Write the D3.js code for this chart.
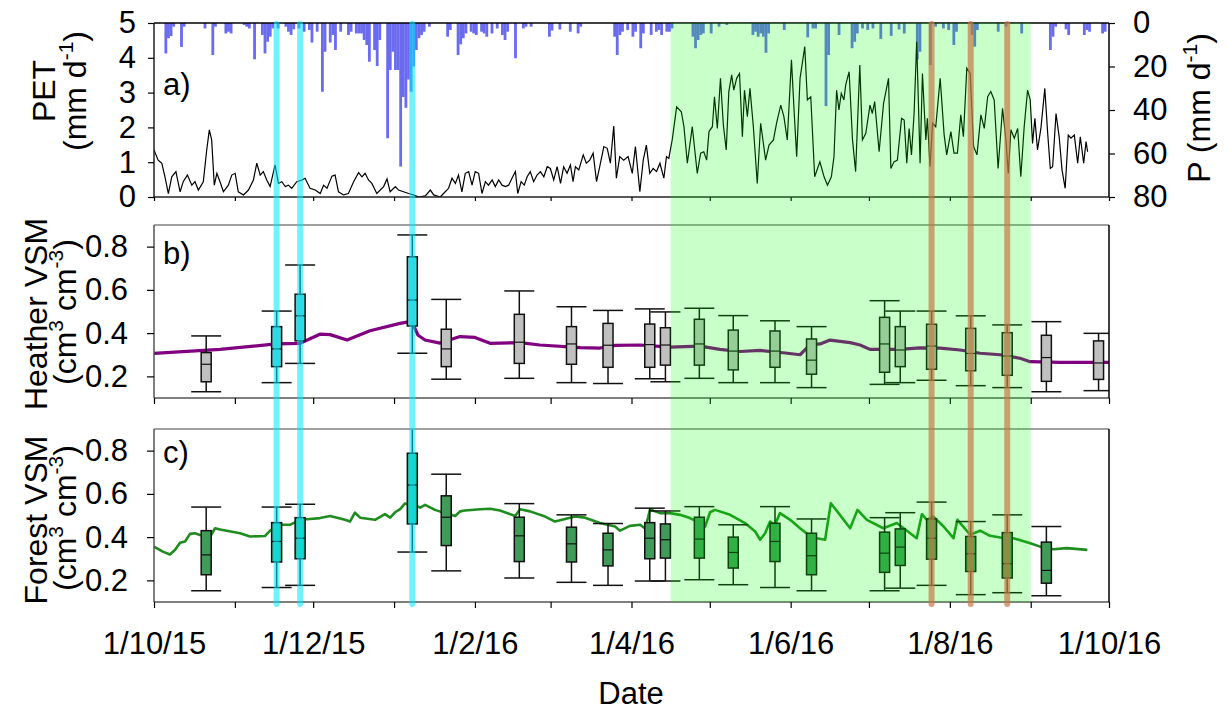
<!DOCTYPE html>
<html>
<head>
<meta charset="utf-8">
<script src="https://cdn.jsdelivr.net/npm/d3@7"></script>
<style>
body { margin: 0; background: #fff; }
svg text { font-family: "Liberation Sans", Arial, sans-serif; fill: #000; }
</style>
</head>
<body>
<script>
var width = 1227;
var height = 713;

// PET (mm/d), day numbers counted from 1 Oct 2015
var petDay = [0,1.6,3.0,4.2,5.5,6.8,8.4,10.0,11.2,12.8,14.5,15.7,17.0,18.9,20.2,21.2,22.1,23.1,24.1,25.3,
	26.6,28.5,29.8,31.1,32.3,34.3,36.2,38.1,39.4,40.7,41.9,43.2,44.5,46.4,47.7,49.0,50.3,51.5,52.8,54.7,
	56.7,57.9,59.8,61.8,63.7,65.0,66.3,68.2,69.4,70.7,72.6,74.5,76.5,78.4,79.7,80.9,82.2,83.5,85.4,88.0,
	89.3,90.5,92.5,93.7,95.6,97.6,99.5,101.4,104.0,105.9,107.2,109.7,111.6,112.9,114.2,115.5,116.7,118.0,119.3,120.6,
	121.9,123.1,124.4,125.7,127.0,128.2,129.6,130.8,132.1,133.4,134.7,135.9,137.2,138.5,139.4,140.7,141.9,143.0,144.2,145.5,
	146.8,148.1,149.4,150.7,151.9,153.2,154.5,155.8,157.0,158.3,159.6,160.6,161.5,162.8,164.5,165.7,167.0,168.3,169.6,171.1,
	172.4,173.7,174.9,176.2,177.2,178.5,180.0,181.7,183.3,184.5,186.2,187.5,188.7,190.0,191.3,192.6,193.9,195.4,196.4,197.3,
	198.6,200.3,202.1,203.1,204.4,206.3,208.2,209.5,210.7,211.8,212.7,214.0,214.8,215.9,217.1,218.2,219.3,220.3,221.4,222.2,
	223.3,224.4,225.5,226.3,227.4,228.4,229.7,231.2,232.5,234.4,235.7,237.4,238.6,240.2,241.4,242.7,244.3,245.3,246.3,247.6,
	249.4,250.4,251.7,253.2,255.2,256.8,258.1,259.6,260.6,261.6,262.5,263.4,264.4,265.1,266.4,267.7,268.9,270.5,271.5,272.8,
	274.4,275.3,276.2,277.9,279.6,281.5,282.4,283.6,284.9,286.5,287.5,288.5,289.4,290.3,291.3,292.3,293.6,294.5,295.8,296.4,
	297.4,298.4,299.6,301.3,302.8,303.8,305.4,306.6,307.9,309.2,310.2,311.5,312.8,314.1,315.4,316.9,318.2,319.5,320.7,322.0,
	323.5,325.2,326.5,327.4,328.4,329.7,331.0,332.2,333.5,334.8,335.8,336.7,337.6,338.6,339.9,341.4,342.5,343.5,344.4,345.7,
	346.9,348.0,349.2,350.4,351.4,352.7,354.0,355.0,356.3,357.2,357.8];
var petVal = [1.35,1.06,0.97,0.58,0.10,0.58,0.73,0.15,0.44,0.63,0.34,0.44,0.20,0.44,1.35,1.93,1.64,0.34,0.68,0.44,
	0.15,0.34,0.63,0.68,0.15,0.06,0.20,0.49,0.97,0.63,0.73,0.49,0.30,0.92,0.39,0.44,0.30,0.34,0.25,0.44,
	0.49,0.54,0.25,0.20,0.10,0.34,0.25,0.60,0.63,0.15,0.06,0.10,0.44,0.70,0.58,0.68,0.49,0.39,0.10,0.30,
	0.52,0.15,0.30,0.20,0.15,0.10,0.06,0.00,0.03,0.20,0.06,0.00,0.15,0.25,0.54,0.39,0.63,0.15,0.68,0.73,
	0.34,0.73,0.68,0.10,0.44,0.34,0.49,0.30,0.49,0.34,0.30,0.34,0.54,0.73,0.10,0.44,0.34,0.58,0.73,0.44,
	0.63,0.73,0.58,0.87,0.82,0.49,0.87,0.39,0.87,0.68,0.92,0.44,0.87,0.78,1.21,0.97,1.06,1.26,0.44,0.97,
	1.45,1.40,0.97,2.04,0.54,1.16,1.06,1.16,0.68,1.45,0.15,1.06,1.49,0.68,0.82,0.73,0.97,0.54,1.16,1.11,
	1.64,2.59,2.45,2.02,0.97,2.02,0.68,1.26,1.30,1.06,1.88,2.02,2.88,1.97,3.41,2.07,1.35,3.03,3.51,3.07,
	3.41,3.55,1.73,3.07,2.31,3.12,2.02,0.39,2.12,1.06,1.49,1.64,2.12,2.64,2.31,1.64,3.94,2.50,1.16,3.41,
	4.32,2.79,2.88,0.58,1.01,0.58,0.34,0.58,1.16,3.07,2.50,2.98,2.79,3.22,3.60,1.64,0.73,3.79,1.64,1.83,
	2.64,2.40,2.74,1.30,2.69,3.41,0.82,1.01,1.06,2.26,2.21,0.97,1.97,1.21,2.40,4.46,0.97,3.55,1.64,2.26,
	0.87,2.12,2.02,3.41,1.80,1.21,1.88,1.26,1.26,2.36,1.73,3.70,3.55,1.45,1.21,2.36,1.97,2.88,3.03,2.79,
	0.82,2.55,1.64,0.68,1.93,1.69,1.97,0.58,2.02,3.07,2.79,1.54,2.26,1.35,1.97,3.12,1.83,0.82,0.87,2.40,
	1.73,0.78,0.25,1.78,1.69,1.78,0.97,1.73,0.97,1.59,1.30];

// daily rainfall P (mm/d)
var rainDay = [4,5,6,7,10,11,19,22,23,27,28,29,34,35,36,38,41,42,43,44,45,47,50,51,52,53,55,57,59,60,
	62,64,65,67,68,69,71,74,75,77,78,79,80,81,82,84,85,86,89,90,91,92,93,94,95,96,97,98,99,100,
	101,102,103,105,112,113,116,117,118,119,121,122,123,125,126,127,129,131,133,134,135,138,141,142,144,151,152,155,159,162,
	163,176,177,178,179,181,183,184,186,187,190,192,193,194,196,197,198,206,207,208,209,210,213,216,219,229,230,231,232,233,
	234,235,241,250,252,253,257,258,262,267,268,269,271,273,275,278,282,285,287,292,293,297,299,302,304,306,307,313,314,315,
	323,326,332,343,344,345,349,350,356,357,358,363,364];
var rainVal = [14,7,6,1.7,11,1.7,2.5,14.7,1.7,4.8,4,4.8,0.9,1.7,2.5,16.7,5.5,14,8.6,6.3,2.5,2.5,1.7,4,5.5,2.9,2.5,4,3.2,9,
	4,31.6,13.2,9,5.5,12.4,4,5.5,4,4.8,4.8,4.8,7.8,10.1,17.8,12.4,19.8,7.8,53,21.6,13.2,21.6,21.6,66,34,39,26,31.6,20,12.4,
	7,5.5,4,1.7,6.3,3.2,14.7,9.8,7,4.8,4,4.8,5.5,4,4.8,6.3,4.8,2.5,5.5,7.8,4,16.2,2.5,1.7,1.7,6.3,3.5,3,4,4.8,
	1.7,6.3,14.7,5.5,4,3.2,6.3,4,11.6,4.8,5.5,4,3.2,5.5,4,4,2.5,6.3,11.6,7.8,5.5,4.8,4.8,1.7,0.9,5.5,4,6.3,4.8,6.3,
	13.7,4.8,3.2,6.6,2.5,2.5,38.2,14.7,5.5,11.6,8.6,4.8,2.5,3.2,2.5,7.3,5.9,3,4.8,16.7,13.2,19.3,1.7,2.5,3.2,10.1,4,5.5,10.9,3.2,
	4,1.7,4.8,12.4,6.3,1.7,2.9,5.5,5.5,3.2,4,4.8,4];

// continuous VSM records
var heathDay = [0,25.3,46.8,56,63.6,67.5,74,82.8,94.3,98.1,99.3,101.2,103.9,109.6,117.3,123,128.8,140.3,147.9,163.3,
	170.9,176.7,186.3,197.8,209.3,216.9,224.6,232.3,241.9,247.6,251.4,255.3,259.1,266.8,270.6,274.4,285.9,293.6,301.3,308.9,
	316.6,324.3,331.9,335.8,347.3,354.9,366];
var heathVal = [0.306,0.325,0.35,0.353,0.395,0.393,0.368,0.411,0.445,0.453,0.44,0.39,0.368,0.354,0.384,0.38,0.353,0.356,0.345,0.333,
	0.331,0.343,0.345,0.335,0.34,0.325,0.315,0.32,0.308,0.3,0.346,0.35,0.368,0.356,0.345,0.325,0.325,0.332,0.331,0.322,
	0.307,0.3,0.284,0.268,0.265,0.265,0.265];
var forestDay = [0,3.4,6.1,8,10,11.9,13.8,15.7,17.6,21.5,23.4,25.3,33,36.8,42.5,44.5,48.3,52.1,56,59.8,
	63.6,67.5,73.2,75.1,77,79,84.7,88.5,90.5,92.4,94.3,96.2,98.1,100,102,103.9,107.7,111.5,115.4,117.3,
	119.2,125,128.8,132.6,138.4,140.3,144.1,149.9,153.7,157.5,161.4,165.2,170.9,176.7,178.6,182.4,186.3,188.2,189.3,190.1,
	192,193.9,197.8,201.6,205.4,209.3,211.2,213.1,215,220.8,226.5,230.4,232.3,234.2,236.1,238,239.9,243.8,247.6,251.4,
	254.1,257.2,259.4,266.8,269.6,273.2,279.5,284.7,292.3,294.3,296.2,298.7,302.6,306.4,307.9,312.8,316.6,320.4,324.3,329.4,
	335.8,339.6,344.7,349.8,357.7];
var forestVal = [0.356,0.333,0.32,0.34,0.374,0.38,0.415,0.418,0.41,0.403,0.441,0.435,0.418,0.403,0.405,0.43,0.457,0.457,0.48,0.484,
	0.488,0.498,0.48,0.472,0.513,0.49,0.48,0.506,0.49,0.515,0.529,0.556,0.548,0.549,0.536,0.549,0.526,0.511,0.498,0.519,
	0.523,0.529,0.531,0.523,0.498,0.529,0.519,0.495,0.472,0.484,0.495,0.49,0.465,0.449,0.43,0.452,0.457,0.44,0.488,0.529,
	0.519,0.511,0.511,0.503,0.488,0.465,0.449,0.515,0.526,0.503,0.465,0.426,0.388,0.418,0.472,0.457,0.511,0.48,0.441,0.405,
	0.395,0.388,0.557,0.441,0.526,0.48,0.441,0.465,0.395,0.506,0.48,0.495,0.449,0.395,0.48,0.411,0.43,0.406,0.398,0.395,
	0.372,0.356,0.344,0.349,0.341];

// sampling campaigns (box plots)
var campaignDates = ["2015-10-21","2015-11-17","2015-11-26","2016-01-08","2016-01-21","2016-02-18","2016-03-09",
	"2016-03-23","2016-04-08","2016-04-14","2016-04-27","2016-05-10","2016-05-26","2016-06-09","2016-07-07",
	"2016-07-13","2016-07-25","2016-08-09","2016-08-23","2016-09-07","2016-09-27"];
var heathMin = [0.129,0.171,0.26,0.307,0.187,0.191,0.171,0.167,0.189,0.175,0.191,0.171,0.171,0.148,0.163,0.171,0.182,0.157,0.148,0.129,0.134];
var heathQ1  = [0.175,0.245,0.364,0.433,0.245,0.26,0.256,0.242,0.242,0.252,0.252,0.23,0.242,0.21,0.219,0.245,0.233,0.226,0.205,0.177,0.186];
var heathMed = [0.256,0.327,0.48,0.553,0.327,0.358,0.35,0.344,0.347,0.345,0.35,0.317,0.317,0.275,0.35,0.322,0.34,0.306,0.294,0.287,0.262];
var heathQ3  = [0.31,0.43,0.58,0.753,0.418,0.487,0.43,0.445,0.442,0.425,0.464,0.414,0.41,0.373,0.473,0.43,0.441,0.422,0.402,0.39,0.364];
var heathMax = [0.387,0.502,0.715,0.854,0.556,0.595,0.522,0.505,0.512,0.498,0.515,0.481,0.457,0.43,0.55,0.502,0.502,0.48,0.438,0.453,0.399];
var forestMin = [0.152,0.167,0.177,0.331,0.244,0.211,0.191,0.177,0.197,0.197,0.203,0.18,0.167,0.152,0.152,0.164,0.177,0.134,0.143,0.129];
var forestQ1  = [0.226,0.285,0.3,0.461,0.361,0.287,0.285,0.267,0.3,0.303,0.303,0.257,0.287,0.226,0.237,0.269,0.298,0.241,0.211,0.187];
var forestMed = [0.318,0.38,0.395,0.641,0.492,0.406,0.369,0.341,0.395,0.388,0.391,0.329,0.38,0.314,0.326,0.354,0.395,0.323,0.277,0.246];
var forestQ3  = [0.43,0.467,0.49,0.788,0.591,0.492,0.446,0.418,0.467,0.461,0.492,0.4,0.464,0.418,0.423,0.438,0.484,0.403,0.421,0.377];
var forestMax = [0.539,0.539,0.552,0.91,0.691,0.555,0.503,0.463,0.534,0.521,0.541,0.457,0.541,0.484,0.49,0.513,0.562,0.472,0.503,0.449];

// marked events and the growing season
var wetEvents = ["2015-11-17","2015-11-26","2016-01-08"];
var dryEvents = ["2016-07-25","2016-08-09","2016-08-23"];
var season = ["2016-04-16","2016-09-01"];

var petTicks = [0,1,2,3,4,5];
var rainTicks = [0,20,40,60,80];
var vsmTicks = [0.2,0.4,0.6,0.8];


var parseDate = d3.timeParse("%Y-%m-%d");
var start = new Date(2015, 9, 1);
function dayDate(d) { return new Date(start.getTime() + d * 864e5); }

var x = d3.scaleTime()
	.domain([start, new Date(2016, 9, 1)])
	.range([154, 1109]);

var yPet = d3.scaleLinear().domain([0, 5]).range([197, 23]);
var yRain = d3.scaleLinear().domain([0, 80]).range([23, 197]);
var yHeath = d3.scaleLinear().domain([0.1, 0.9]).range([398, 225]);
var yForest = d3.scaleLinear().domain([0.1, 0.9]).range([602, 429]);

var svg = d3.select("body").append("svg")
	.attr("width", width)
	.attr("height", height);

var defs = svg.append("defs");
function clip(id, y0, y1) {
	defs.append("clipPath").attr("id", id)
		.append("rect")
		.attr("x", x.range()[0]).attr("y", y0)
		.attr("width", x.range()[1] - x.range()[0]).attr("height", y1 - y0);
	return "url(#" + id + ")";
}

//---- panel a: rain bars + PET line
var pa = svg.append("g").attr("clip-path", clip("clipA", 23, 197));

pa.selectAll("rect.rain")
	.data(d3.zip(rainDay, rainVal))
	.enter().append("rect")
	.attr("class", "rain")
	.attr("x", function(d) { return x(dayDate(d[0])); })
	.attr("y", yRain(0))
	.attr("width", function(d) { return x(dayDate(d[0] + 1)) - x(dayDate(d[0])) + 0.2; })
	.attr("height", function(d) { return yRain(d[1]) - yRain(0); })
	.style("fill", "#6a6bef");

var petLine = d3.line()
	.x(function(d) { return x(dayDate(d[0])); })
	.y(function(d) { return yPet(d[1]); });

pa.append("path")
	.datum(d3.zip(petDay, petVal))
	.attr("d", petLine)
	.style("fill", "none")
	.style("stroke", "#000")
	.style("stroke-width", 1.2);

//---- panels b and c: VSM line + boxes
function boxes(dates, lo, q1, med, q3, hi) {
	return dates.map(function(s, i) {
		return {date: parseDate(s), key: s, lo: lo[i], q1: q1[i], med: med[i], q3: q3[i], hi: hi[i]};
	});
}

function drawPanel(id, y, lineDay, lineVal, lineColor, lineWidth, data, fill, wetFill) {
	var g = svg.append("g").attr("clip-path", clip(id, y.range()[1], y.range()[0]));

	var vsmLine = d3.line()
		.x(function(d) { return x(dayDate(d[0])); })
		.y(function(d) { return y(d[1]); });

	g.append("path")
		.datum(d3.zip(lineDay, lineVal))
		.attr("d", vsmLine)
		.style("fill", "none")
		.style("stroke", lineColor)
		.style("stroke-width", lineWidth)
		.style("stroke-linejoin", "round");

	var b = g.selectAll("g.box")
		.data(data)
		.enter().append("g")
		.attr("class", "box")
		.style("stroke", "#111")
		.style("stroke-width", 1.5);

	b.append("line")
		.attr("x1", function(d) { return x(d.date); })
		.attr("x2", function(d) { return x(d.date); })
		.attr("y1", function(d) { return y(d.lo); })
		.attr("y2", function(d) { return y(d.hi); });
	b.append("line")
		.attr("x1", function(d) { return x(d.date) - 15; })
		.attr("x2", function(d) { return x(d.date) + 15; })
		.attr("y1", function(d) { return y(d.hi); })
		.attr("y2", function(d) { return y(d.hi); });
	b.append("line")
		.attr("x1", function(d) { return x(d.date) - 15; })
		.attr("x2", function(d) { return x(d.date) + 15; })
		.attr("y1", function(d) { return y(d.lo); })
		.attr("y2", function(d) { return y(d.lo); });
	b.append("rect")
		.attr("x", function(d) { return x(d.date) - 5; })
		.attr("width", 10)
		.attr("y", function(d) { return y(d.q3); })
		.attr("height", function(d) { return y(d.q1) - y(d.q3); })
		.style("fill", function(d) { return wetEvents.indexOf(d.key) >= 0 ? wetFill : fill; });
	b.append("line")
		.attr("x1", function(d) { return x(d.date) - 5; })
		.attr("x2", function(d) { return x(d.date) + 5; })
		.attr("y1", function(d) { return y(d.med); })
		.attr("y2", function(d) { return y(d.med); })
		.style("stroke-width", 1.2);
}

drawPanel("clipB", yHeath, heathDay, heathVal, "#800080", 3.2,
	boxes(campaignDates, heathMin, heathQ1, heathMed, heathQ3, heathMax), "#c0c0c0", "#5ccdd0");
drawPanel("clipC", yForest, forestDay, forestVal, "#1e8c1e", 2.6,
	boxes(campaignDates.slice(0, 20), forestMin, forestQ1, forestMed, forestQ3, forestMax), "#3f9b57", "#2ec2a6");

//---- axes
var fontSize = 31;
function styleAxis(g) {
	g.selectAll("text").style("font-size", fontSize + "px").style("font-family", "Liberation Sans, Arial, sans-serif");
	g.selectAll("line").style("stroke", "#000").style("stroke-width", 1.2);
	g.select(".domain").remove();
}

function frame(y0, y1, topColor, sideColor) {
	var l = x.range()[0], r = x.range()[1];
	svg.append("line").attr("x1", l).attr("x2", r).attr("y1", y0).attr("y2", y0).style("stroke", topColor).style("stroke-width", 1.5);
	svg.append("line").attr("x1", l).attr("x2", r).attr("y1", y1).attr("y2", y1).style("stroke", sideColor).style("stroke-width", 1.5);
	svg.append("line").attr("x1", l).attr("x2", l).attr("y1", y0).attr("y2", y1).style("stroke", sideColor).style("stroke-width", 1.5);
	svg.append("line").attr("x1", r).attr("x2", r).attr("y1", y0).attr("y2", y1).style("stroke", "#000").style("stroke-width", 1.5);
}
frame(23, 197, "#000", "#222");
frame(225, 398, "#808080", "#555");
frame(429, 602, "#808080", "#555");

var monthTicks = d3.timeMonth.range(start, new Date(2016, 9, 2));
var fmt = d3.timeFormat("%-d/%-m/%y");

svg.append("g")
	.attr("transform", "translate(0,197)")
	.call(d3.axisBottom(x).tickValues(monthTicks).tickSize(4).tickFormat(""))
	.call(styleAxis);
svg.append("g")
	.attr("transform", "translate(0,398)")
	.call(d3.axisBottom(x).tickValues(monthTicks).tickSize(6).tickFormat(""))
	.call(styleAxis);
svg.append("g")
	.attr("transform", "translate(0,602)")
	.call(d3.axisBottom(x).tickValues(monthTicks).tickSize(6).tickPadding(24)
		.tickFormat(function(d) { return d.getMonth() % 2 === 1 ? fmt(d) : ""; }))
	.call(styleAxis);

svg.append("g")
	.attr("transform", "translate(154,0)")
	.call(d3.axisLeft(yPet).tickValues(petTicks).tickSize(6).tickPadding(12).tickFormat(d3.format("d")))
	.call(styleAxis);
svg.append("g")
	.attr("transform", "translate(1109,0)")
	.call(d3.axisRight(yRain).tickValues(rainTicks).tickSize(6).tickPadding(18).tickFormat(d3.format("d")))
	.call(styleAxis);
svg.append("g")
	.attr("transform", "translate(154,0)")
	.call(d3.axisLeft(yHeath).tickValues(vsmTicks).tickSize(7).tickPadding(19).tickFormat(d3.format(".1f")))
	.call(styleAxis);
svg.append("g")
	.attr("transform", "translate(154,0)")
	.call(d3.axisLeft(yForest).tickValues(vsmTicks).tickSize(7).tickPadding(19).tickFormat(d3.format(".1f")))
	.call(styleAxis);

//---- overlays: growing season and event lines
svg.append("rect")
	.attr("x", x(parseDate(season[0])))
	.attr("width", x(parseDate(season[1])) - x(parseDate(season[0])))
	.attr("y", 23)
	.attr("height", 602 - 23)
	.style("fill", "#00ff00")
	.style("opacity", 0.21);

svg.selectAll("line.wet")
	.data(wetEvents)
	.enter().append("line")
	.attr("class", "wet")
	.attr("x1", function(d) { return x(parseDate(d)); })
	.attr("x2", function(d) { return x(parseDate(d)); })
	.attr("y1", 24)
	.attr("y2", 604)
	.style("stroke", "#00e8ff")
	.style("stroke-width", 6)
	.style("stroke-linecap", "round")
	.style("opacity", 0.55);

svg.selectAll("line.dry")
	.data(dryEvents)
	.enter().append("line")
	.attr("class", "dry")
	.attr("x1", function(d) { return x(parseDate(d)); })
	.attr("x2", function(d) { return x(parseDate(d)); })
	.attr("y1", 24)
	.attr("y2", 604)
	.style("stroke", "#c77746")
	.style("stroke-width", 6)
	.style("stroke-linecap", "round")
	.style("opacity", 0.68);

//---- labels
function label(txt, px, py) {
	svg.append("text").attr("x", px).attr("y", py).style("font-size", "31px").text(txt);
}
label("a)", 163, 95);
label("b)", 163, 264);
label("c)", 163, 463);

svg.append("text")
	.attr("x", 631).attr("y", 704)
	.style("font-size", "31px")
	.style("text-anchor", "middle")
	.text("Date");

// rotated titles, parts: [text, superscript?]
function vtitle(cx, cy, parts) {
	var t = svg.append("text")
		.attr("transform", "translate(" + cx + "," + cy + ") rotate(-90)")
		.style("text-anchor", "middle")
		.style("font-size", "32px");
	var up = false;
	parts.forEach(function(p) {
		var s = t.append("tspan").text(p[0]);
		if (p[1] && !up) { s.attr("dy", -13).style("font-size", "21px"); up = true; }
		else if (p[1]) { s.style("font-size", "21px"); }
		else if (up) { s.attr("dy", 13); up = false; }
	});
}
vtitle(55, 91, [["PET"]]);
vtitle(86, 91, [["(mm d"], ["-1", true], [")"]]);
vtitle(47, 314, [["Heather VSM"]]);
vtitle(76, 312, [["(cm"], ["3", true], [" cm"], ["-3", true], [")"]]);
vtitle(47, 520, [["Forest VSM"]]);
vtitle(76, 518, [["(cm"], ["3", true], [" cm"], ["-3", true], [")"]]);
vtitle(1210, 108, [["P (mm d"], ["-1", true], [")"]]);

</script>
</body>
</html>
